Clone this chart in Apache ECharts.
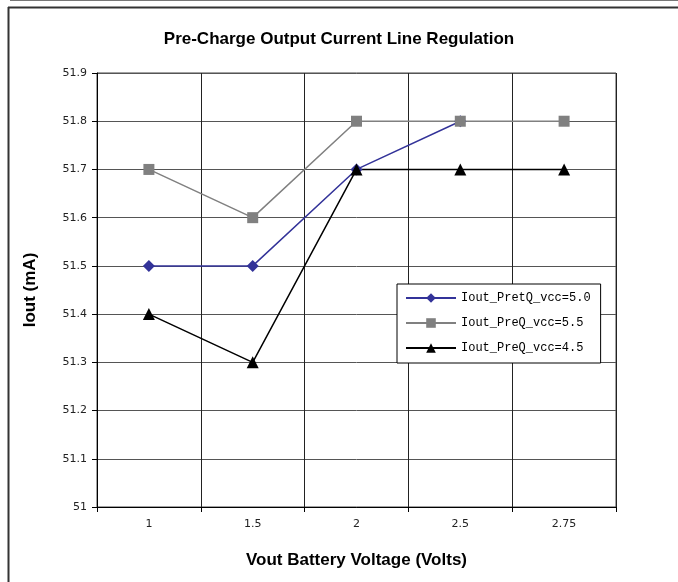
<!DOCTYPE html>
<html><head><meta charset="utf-8">
<script src="https://cdn.jsdelivr.net/npm/echarts@6/dist/echarts.min.js"></script>
<style>html,body{margin:0;padding:0;background:#fff}#c{width:678px;height:582px}</style>
</head><body><div id="c"></div>
<script>
const categories = ['1', '1.5', '2', '2.5', '2.75'];
const vcc50 = [51.5, 51.5, 51.7, 51.8, null];
const vcc55 = [51.7, 51.6, 51.8, 51.8, 51.8];
const vcc45 = [51.4, 51.3, 51.7, 51.7, 51.7];
const seriesNames = ['Iout_PretQ_vcc=5.0', 'Iout_PreQ_vcc=5.5', 'Iout_PreQ_vcc=4.5'];

const chart = echarts.init(document.getElementById('c'), null, {renderer: 'canvas'});
chart.setOption({
  backgroundColor: '#fff',
  animation: false,
  title: {
    text: 'Pre-Charge Output Current Line Regulation',
    left: 'center', top: 26,
    textStyle: {fontFamily: 'Liberation Sans', fontWeight: 'bold', fontSize: 17, color: '#000'}
  },
  graphic: [
    {type: 'line', shape: {x1: 10, y1: 0.5, x2: 678, y2: 0.5}, style: {stroke: '#777', lineWidth: 1}},
    {type: 'line', shape: {x1: 8.5, y1: 7, x2: 8.5, y2: 582}, style: {stroke: '#333', lineWidth: 2}},
    {type: 'line', shape: {x1: 8, y1: 7.5, x2: 678, y2: 7.5}, style: {stroke: '#333', lineWidth: 2}}
  ],
  legend: {
    orient: 'vertical',
    left: 397, top: 284,
    width: 208,
    backgroundColor: '#fff',
    borderColor: '#000', borderWidth: 1,
    padding: [8, 10, 9, 8],
    itemWidth: 50, itemHeight: 12, itemGap: 13,
    textStyle: {fontFamily: 'Liberation Mono', fontSize: 12, color: '#000'},
    data: seriesNames
  },
  grid: {left: 97, right: 62, top: 73, bottom: 75, show: true, borderColor: '#444', borderWidth: 1},
  xAxis: {
    type: 'category', data: categories,
    boundaryGap: true,
    name: 'Vout Battery Voltage (Volts)', nameLocation: 'middle', nameGap: 45,
    nameTextStyle: {fontFamily: 'Liberation Sans', fontWeight: 'bold', fontSize: 17, color: '#000'},
    axisLine: {lineStyle: {color: '#000', width: 1}},
    axisTick: {show: true, length: 5, lineStyle: {color: '#000'}},
    axisLabel: {fontFamily: 'DejaVu Sans', fontSize: 11, color: '#222', margin: 12},
    splitLine: {show: true, lineStyle: {color: '#222', width: 1}}
  },
  yAxis: {
    type: 'value', min: 51, max: 51.9, interval: 0.1,
    name: 'Iout (mA)', nameLocation: 'middle', nameGap: 58, nameRotate: 90,
    nameTextStyle: {fontFamily: 'Liberation Sans', fontWeight: 'bold', fontSize: 17, color: '#000'},
    axisLine: {show: true, lineStyle: {color: '#000', width: 1}},
    axisTick: {show: true, length: 5, lineStyle: {color: '#000'}},
    axisLabel: {fontFamily: 'DejaVu Sans', fontSize: 11, color: '#222', margin: 10,
      formatter: v => (Math.round(v * 10) / 10).toString()},
    splitLine: {show: true, lineStyle: {color: '#555', width: 1}}
  },
  series: [
    {name: seriesNames[0], type: 'line', data: vcc50, symbol: 'diamond', symbolSize: 12,
      itemStyle: {color: '#333399'}, lineStyle: {color: '#333399', width: 1.5}},
    {name: seriesNames[1], type: 'line', data: vcc55, symbol: 'rect', symbolSize: 11,
      itemStyle: {color: '#808080'}, lineStyle: {color: '#808080', width: 1.5}},
    {name: seriesNames[2], type: 'line', data: vcc45, symbol: 'triangle', symbolSize: 12,
      itemStyle: {color: '#000'}, lineStyle: {color: '#000', width: 1.5}}
  ]
});
</script></body></html>
